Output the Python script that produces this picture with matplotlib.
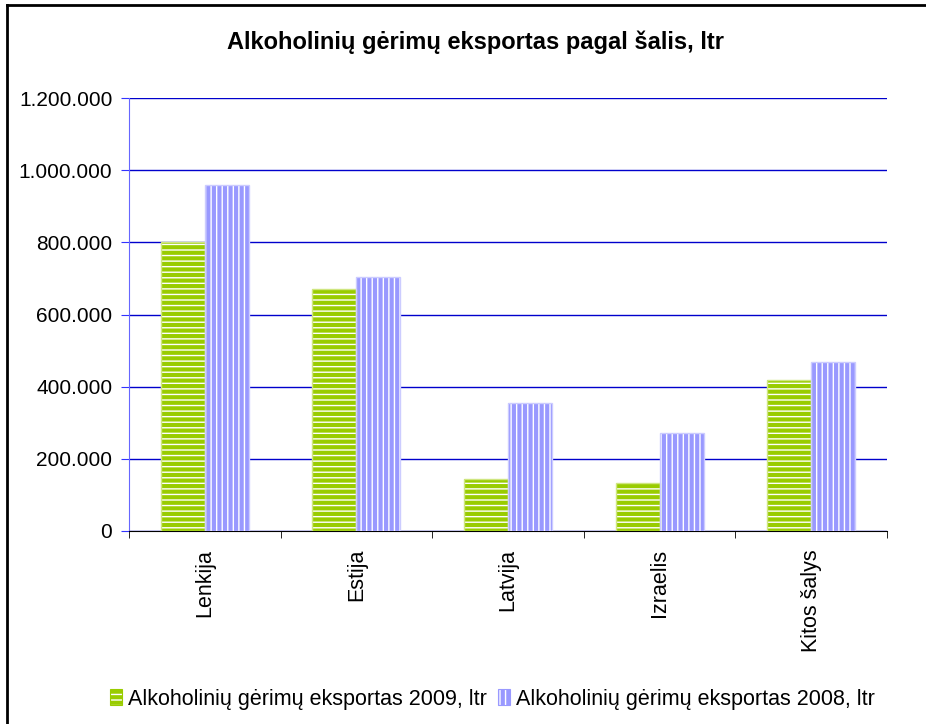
import matplotlib.pyplot as plt
import numpy as np
from matplotlib.lines import Line2D
from matplotlib.ticker import FuncFormatter

plt.rcParams['font.family'] = ['Liberation Sans', 'DejaVu Sans']
plt.rcParams['hatch.linewidth'] = 3.0

countries = ['Lenkija', 'Estija', 'Latvija', 'Izraelis', 'Kitos šalys']
exp_2009 = [800000, 670000, 145000, 133000, 418000]
exp_2008 = [958000, 704000, 355000, 271000, 468000]
labels = ['Alkoholinių gėrimų eksportas 2009, ltr', 'Alkoholinių gėrimų eksportas 2008, ltr']

green = '#99cc00'
blue = '#9999ff'

fig = plt.figure(figsize=(9.26, 7.24), dpi=100)
ax = fig.add_axes([0.1393, 0.2666, 0.8186, 0.598])

x = np.arange(len(countries))
w = 0.29
ax.bar(x - w / 2, exp_2009, w, color='white', edgecolor=green, hatch='---', linewidth=0, zorder=3)
ax.bar(x + w / 2, exp_2008, w, color='white', edgecolor=blue, hatch='|||', linewidth=0, zorder=3)
ax.bar(x - w / 2, exp_2009, w, color='none', edgecolor='#cfe680', linewidth=1, zorder=4)
ax.bar(x + w / 2, exp_2008, w, color='none', edgecolor='#ccccff', linewidth=1, zorder=4)

ax.set_xlim(-0.5, len(countries) - 0.5)
ax.set_ylim(0, 1200000)
ax.set_yticks(np.arange(0, 1200001, 200000))
ax.yaxis.set_major_formatter(FuncFormatter(lambda v, p: f'{int(v):,}'.replace(',', '.')))
ax.grid(axis='y', color='#0000cc', linewidth=1, zorder=1)
ax.set_axisbelow(True)

ax.set_xticks(x)
ax.set_xticklabels(countries, rotation=90, fontsize=15.5)
ax.set_xticks(np.arange(-0.5, len(countries)), minor=True)
ax.tick_params(axis='x', which='major', length=0, pad=13)
ax.tick_params(axis='x', which='minor', length=5, color='black', direction='out')
ax.tick_params(axis='y', length=6, color='#3333ff', labelsize=15, pad=6)

for s in ['top', 'right']:
    ax.spines[s].set_visible(False)
ax.spines['left'].set_color('#6666ff')
ax.spines['bottom'].set_color('black')

fig.text(0.513, 0.941, 'Alkoholinių gėrimų eksportas pagal šalis, ltr', ha='center', va='center',
         fontsize=17, fontweight='bold')

# frame around chart
fig.add_artist(Line2D([7 / 926, 1], [1 - 5 / 724, 1 - 5 / 724], color='black', lw=2, transform=fig.transFigure))
fig.add_artist(Line2D([7 / 926, 7 / 926], [0, 1 - 5 / 724], color='black', lw=2, transform=fig.transFigure))

h1 = plt.Rectangle((0, 0), 1, 1, facecolor='white', edgecolor=green, hatch='---', linewidth=0.8)
h2 = plt.Rectangle((0, 0), 1, 1, facecolor='white', edgecolor=blue, hatch='|||', linewidth=0.8)
fig.legend([h1, h2], labels, loc='center', bbox_to_anchor=(0.532, 0.034), ncol=2, frameon=False,
           fontsize=15.5, handlelength=0.55, handleheight=0.75, handletextpad=0.3, columnspacing=0.5)

fig.savefig('out.png', dpi=100)
